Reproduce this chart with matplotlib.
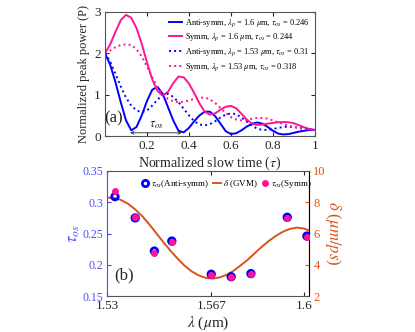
import numpy as np
import matplotlib
matplotlib.use("Agg")
import matplotlib.pyplot as plt
from matplotlib.lines import Line2D

plt.rcParams['font.family'] = ['Liberation Serif', 'DejaVu Serif']
plt.rcParams['mathtext.fontset'] = 'stix'

# ---- panel (a): normalized peak power vs slow time ----
tau = np.linspace(0, 1, 41)
p_anti_16 = [2.0, 1.72, 1.3, 0.82, 0.38, 0.14, 0.22, 0.5, 0.85, 1.12, 1.19,
             1.02, 0.7, 0.38, 0.13, 0.09, 0.2, 0.36, 0.5, 0.59, 0.59,
             0.48, 0.3, 0.12, 0.05, 0.07, 0.14, 0.23, 0.3, 0.33, 0.3,
             0.22, 0.13, 0.06, 0.04, 0.05, 0.08, 0.11, 0.13, 0.15, 0.15]
p_symm_16 = [2.0, 2.22, 2.52, 2.8, 2.93, 2.86, 2.61, 2.23, 1.78, 1.37, 1.09,
             0.98, 1.07, 1.28, 1.44, 1.42, 1.27, 1.04, 0.79, 0.59, 0.52,
             0.55, 0.64, 0.71, 0.73, 0.67, 0.54, 0.4, 0.3, 0.27, 0.28,
             0.3, 0.32, 0.335, 0.34, 0.335, 0.31, 0.26, 0.21, 0.17, 0.15]
p_anti_153 = [2.0, 1.8, 1.5, 1.2, 0.93, 0.74, 0.62, 0.58, 0.62, 0.74, 0.88,
              1.0, 1.02, 0.95, 0.82, 0.66, 0.5, 0.36, 0.28, 0.26, 0.29,
              0.36, 0.45, 0.52, 0.55, 0.53, 0.45, 0.35, 0.25, 0.18, 0.15,
              0.15, 0.17, 0.2, 0.22, 0.23, 0.22, 0.2, 0.18, 0.16, 0.15]
p_symm_153 = [2.0, 2.07, 2.15, 2.2, 2.22, 2.2, 2.1, 1.92, 1.68, 1.42, 1.18,
              1.0, 0.9, 0.84, 0.82, 0.83, 0.86, 0.9, 0.93, 0.93, 0.89,
              0.8, 0.68, 0.56, 0.46, 0.4, 0.38, 0.39, 0.42, 0.44, 0.44,
              0.42, 0.38, 0.33, 0.29, 0.25, 0.22, 0.19, 0.17, 0.16, 0.15]

# ---- panel (b): tau_os and GVM vs wavelength ----
lam = [1.5328, 1.540, 1.5468, 1.553, 1.567, 1.5741, 1.5811, 1.594, 1.601]
tau_anti = [0.309, 0.275, 0.222, 0.238, 0.185, 0.181, 0.186, 0.276, 0.246]
tau_symm = [0.318, 0.276, 0.219, 0.236, 0.184, 0.180, 0.185, 0.275, 0.244]

lam_gvm = [1.5300, 1.5325, 1.5350, 1.5375, 1.5400, 1.5425, 1.5450, 1.5475,
           1.5500, 1.5525, 1.5550, 1.5575, 1.5600, 1.5625, 1.5650, 1.5675,
           1.5700, 1.5725, 1.5750, 1.5775, 1.5800, 1.5825, 1.5850, 1.5875,
           1.5900, 1.5925, 1.5950, 1.5975, 1.6000, 1.6018]
gvm = [8.29, 8.28, 8.14, 7.9, 7.54, 7.11, 6.59, 6.02,
       5.45, 4.91, 4.41, 3.95, 3.59, 3.33, 3.17, 3.12,
       3.2, 3.36, 3.63, 3.97, 4.33, 4.75, 5.16, 5.53,
       5.86, 6.12, 6.3, 6.38, 6.32, 6.2]

blue = '#0000ff'
pink = '#ff1493'
orange = '#d95319'
tick_blue = '#4d4dff'
dark = '#262626'

fig = plt.figure(figsize=(4.15, 3.32), dpi=100)

# top panel
ax1 = fig.add_axes([0.253, 0.590, 0.506, 0.374])
ax1.plot(tau, p_anti_16, color=blue, lw=1.4,
         label=r'Anti-symm, $\lambda_p$ = 1.6 $\mu$m, $\tau_{os}$ = 0.246')
ax1.plot(tau, p_symm_16, color=pink, lw=1.4,
         label=r'Symm, $\lambda_p$ = 1.6 $\mu$m, $\tau_{os}$ = 0.244')
ax1.plot(tau, p_anti_153, color=blue, lw=1.4, ls=':',
         label=r'Anti-symm, $\lambda_p$ = 1.53 $\mu$m, $\tau_{os}$ = 0.31')
ax1.plot(tau, p_symm_153, color=pink, lw=1.4, ls=':',
         label=r'Symm, $\lambda_p$ = 1.53 $\mu$m, $\tau_{os}$ = 0.318')
ax1.set_xlim(0, 1)
ax1.set_ylim(0, 3)
ax1.set_xticks([0.2, 0.4, 0.6, 0.8, 1])
ax1.set_xticklabels(['0.2', '0.4', '0.6', '0.8', '1'])
ax1.set_yticks([0, 1, 2, 3])
ax1.tick_params(direction='in', top=True, right=True, length=3,
                labelsize=9.5, colors=dark, pad=3)
for s in ax1.spines.values():
    s.set_color('#555555')
ax1.set_xlabel(r'Normalized slow time ($\tau$)', fontsize=10, color=dark, labelpad=2)
ax1.set_ylabel('Normalized peak power (P)', fontsize=9, color=dark, labelpad=3)
ax1.legend(loc='upper right', fontsize=6, frameon=False, handlelength=1.6,
           handletextpad=0.4, labelspacing=0.35, borderaxespad=0.2)
ax1.text(0.04, 0.43, '(a)', fontsize=12, color=dark, va='center', ha='center')
ax1.annotate('', xy=(0.12, 0.08), xytext=(0.365, 0.08),
             arrowprops=dict(arrowstyle='<->', color=dark, lw=0.6,
                             mutation_scale=5, shrinkA=0, shrinkB=0))
ax1.text(0.245, 0.22, r'$\tau_{os}$', fontsize=9, color=dark, ha='center')

# bottom panel
ax2 = fig.add_axes([0.258, 0.108, 0.487, 0.377])
ax3 = ax2.twinx()
ax3.plot(lam_gvm, gvm, color=orange, lw=1.4, zorder=1)
ax3.set_ylim(2, 10)
ax3.set_yticks([2, 4, 6, 8, 10])
ax3.tick_params(direction='in', length=3, labelsize=9, colors=orange, pad=3)
ax3.set_ylabel(r'$\delta$ ($\mu m/ps$)', color=orange, fontsize=12,
               rotation=270, labelpad=12)

ax2.set_zorder(ax3.get_zorder() + 1)
ax2.patch.set_visible(False)
ax2.scatter(lam, tau_anti, s=22, facecolors='none', edgecolors=blue,
            linewidths=2.0, zorder=3)
ax2.scatter(lam, tau_symm, s=16, color=pink, zorder=4)
ax2.set_xlim(1.53, 1.6018)
ax2.set_ylim(0.15, 0.35)
ax2.set_xticks([1.53, 1.567, 1.6])
ax2.set_xticklabels(['1.53', '1.567', '1.6'])
ax2.set_yticks([0.15, 0.2, 0.25, 0.3, 0.35])
ax2.set_yticklabels(['0.15', '0.2', '0.25', '0.3', '0.35'])
ax2.tick_params(axis='y', direction='in', length=3, labelsize=8.5,
                colors=tick_blue, pad=3)
ax2.tick_params(axis='x', direction='in', length=3, labelsize=9.5,
                colors=dark, top=True, pad=3)
ax2.spines['left'].set_color(tick_blue)
ax2.spines['top'].set_color('#555555')
ax2.spines['bottom'].set_color('#555555')
ax3.spines['right'].set_color(orange)
ax3.spines['left'].set_visible(False)
ax3.spines['top'].set_visible(False)
ax3.spines['bottom'].set_visible(False)
ax2.set_xlabel(r'$\lambda$ ($\mu$m)', fontsize=11, color=dark, labelpad=2)
ax2.set_ylabel(r'$\tau_{os}$', fontsize=12, color=tick_blue, labelpad=0)
ax2.text(1.5325, 0.183, '(b)', fontsize=12, color=dark, va='center')

handles = [
    Line2D([], [], ls='none', marker='o', mfc='none', mec=blue, mew=2.0, ms=4.5),
    Line2D([], [], color=orange, lw=1.4),
    Line2D([], [], ls='none', marker='o', color=pink, ms=4),
]
labels = [r'$\tau_{os}$(Anti-symm)', r'$\delta$ (GVM)', r'$\tau_{os}$(Symm)']
ax2.legend(handles, labels, loc='upper left', ncol=3, fontsize=6.5,
           frameon=False, handlelength=0.9, handletextpad=0.25,
           columnspacing=0.35, bbox_to_anchor=(0.14, 0.985), borderaxespad=0.2)

fig.savefig('out.png', dpi=100)
